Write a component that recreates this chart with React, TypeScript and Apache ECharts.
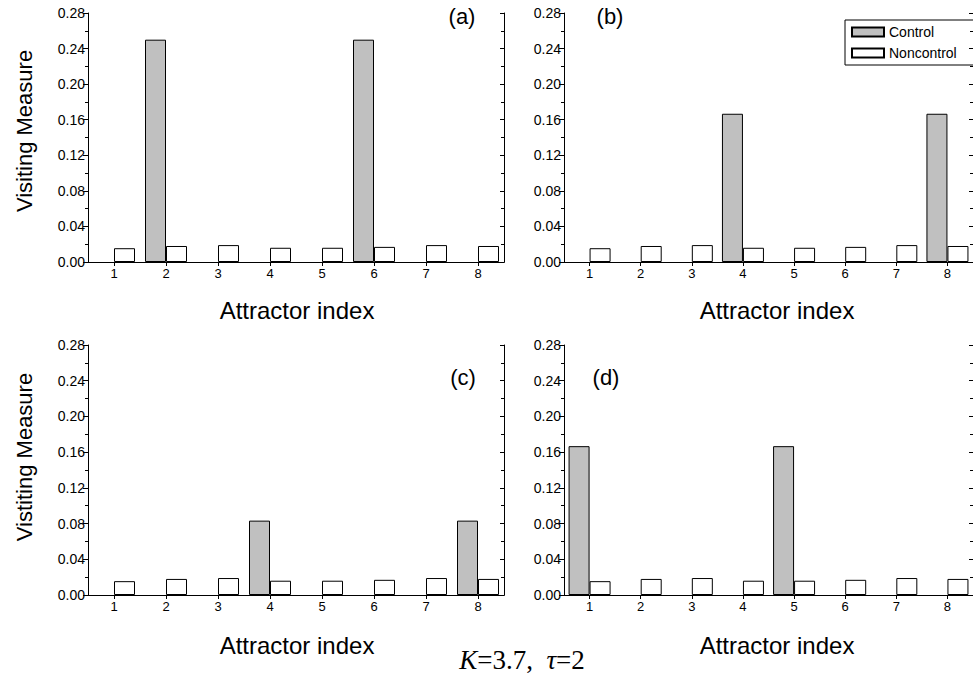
import React, { useEffect, useRef } from 'react';
import * as echarts from 'echarts';

const categories = ['1', '2', '3', '4', '5', '6', '7', '8'];
const controlA = [null, 0.25, null, null, null, 0.25, null, null];
const controlB = [null, null, null, 0.1667, null, null, null, 0.1667];
const controlC = [null, null, null, 0.0833, null, null, null, 0.0833];
const controlD = [0.1667, null, null, null, 0.1667, null, null, null];
const noncontrolA = [0.0155, 0.018, 0.019, 0.016, 0.016, 0.017, 0.019, 0.018];
const noncontrolB = [0.0155, 0.018, 0.019, 0.016, 0.016, 0.017, 0.019, 0.018];
const noncontrolC = [0.0155, 0.018, 0.019, 0.016, 0.016, 0.017, 0.019, 0.018];
const noncontrolD = [0.0155, 0.018, 0.019, 0.016, 0.016, 0.017, 0.019, 0.018];
const panelLabels = ['(a)', '(b)', '(c)', '(d)'];
const yTitles = ['Visiting Measure', 'Vistiting Measure'];
const xTitle = 'Attractor index';

const FONT = 'Liberation Sans, Arial, sans-serif';
const SERIF = 'Liberation Serif, Times New Roman, serif';

export default function App() {
  const ref = useRef<HTMLDivElement>(null);
  useEffect(() => {
    if (!ref.current) return;
    const chart = echarts.init(ref.current, undefined, { renderer: 'svg' });
    const grids = [
      { left: 88, top: 13, width: 416, height: 249 },
      { left: 564, top: 13, width: 416, height: 249 },
      { left: 88, top: 345, width: 416, height: 250 },
      { left: 564, top: 345, width: 416, height: 250 },
    ];
    const controls = [controlA, controlB, controlC, controlD];
    const noncontrols = [noncontrolA, noncontrolB, noncontrolC, noncontrolD];
    const black = { color: '#000', width: 1 };
    const xAxis: any[] = [];
    const yAxis: any[] = [];
    const series: any[] = [];
    grids.forEach((_, i) => {
      xAxis.push({
        gridIndex: i, type: 'category', data: categories, position: 'bottom',
        axisLine: { show: true, lineStyle: black },
        axisTick: { show: true, alignWithLabel: true, length: 4, lineStyle: black },
        axisLabel: { color: '#000', fontSize: 13, fontFamily: FONT, margin: 5 },
        splitLine: { show: false },
      });
      xAxis.push({
        gridIndex: i, type: 'category', data: categories, position: 'top',
        axisLine: { show: true, lineStyle: black },
        axisTick: { show: true, alignWithLabel: true, inside: true, length: 3, lineStyle: black },
        axisLabel: { show: false },
        splitLine: { show: false },
      });
      yAxis.push({
        gridIndex: i, type: 'value', min: 0, max: 0.28, interval: 0.04, position: 'left',
        axisLine: { show: true, lineStyle: black },
        axisTick: { show: true, length: 5, lineStyle: black },
        minorTick: { show: true, splitNumber: 2, length: 3, lineStyle: black },
        axisLabel: { color: '#000', fontSize: 14, fontFamily: FONT, margin: 3, formatter: (v: number) => v.toFixed(2) },
        splitLine: { show: false },
      });
      yAxis.push({
        gridIndex: i, type: 'value', min: 0, max: 0.28, interval: 0.04, position: 'right',
        axisLine: { show: true, lineStyle: black },
        axisTick: { show: true, inside: true, length: 4, lineStyle: black },
        minorTick: { show: true, splitNumber: 2, length: 3, lineStyle: black },
        axisLabel: { show: false },
        splitLine: { show: false },
      });
      series.push({
        name: 'Control', type: 'bar', xAxisIndex: 2 * i, yAxisIndex: 2 * i,
        data: controls[i], barWidth: 21, barGap: '0%',
        itemStyle: { color: '#c0c0c0', borderColor: '#000', borderWidth: 1 },
      });
      series.push({
        name: 'Noncontrol', type: 'bar', xAxisIndex: 2 * i, yAxisIndex: 2 * i,
        data: noncontrols[i], barWidth: 21, barGap: '0%',
        itemStyle: { color: '#ffffff', borderColor: '#000', borderWidth: 1 },
      });
    });
    const labelPos = [[462, 16], [610, 16], [463, 377], [606, 377]];
    const graphic: any[] = [];
    labelPos.forEach((p, i) => {
      graphic.push({
        type: 'text', x: p[0], y: p[1],
        style: { text: panelLabels[i], fontSize: 22, fontFamily: FONT, fill: '#000', textAlign: 'center', textVerticalAlign: 'middle', align: 'center', verticalAlign: 'middle' },
      });
    });
    [[24, 131], [24, 457]].forEach((p, i) => {
      graphic.push({
        type: 'text', x: p[0], y: p[1], rotation: Math.PI / 2,
        style: { text: yTitles[i], fontSize: 22, fontFamily: FONT, fill: '#000', textAlign: 'center', textVerticalAlign: 'middle', align: 'center', verticalAlign: 'middle' },
      });
    });
    [[297, 310], [777, 310], [297, 645], [777, 645]].forEach((p) => {
      graphic.push({
        type: 'text', x: p[0], y: p[1],
        style: { text: xTitle, fontSize: 24, fontFamily: FONT, fill: '#000', textAlign: 'center', textVerticalAlign: 'middle', align: 'center', verticalAlign: 'middle' },
      });
    });
    graphic.push({
      type: 'text', x: 522, y: 660,
      style: {
        text: '{i|K}=3.7,  {i|τ}=2',
        fontSize: 27, fontFamily: SERIF, fill: '#000',
        textAlign: 'center', textVerticalAlign: 'middle', align: 'center', verticalAlign: 'middle',
        rich: { i: { fontStyle: 'italic', fontSize: 27, fontFamily: SERIF } },
      },
    });
    chart.setOption({
      animation: false,
      backgroundColor: '#fff',
      grid: grids,
      xAxis, yAxis, series,
      legend: {
        data: ['Control', 'Noncontrol'], orient: 'vertical', left: 845, top: 20,
        itemWidth: 32, itemHeight: 9, itemGap: 7, icon: 'rect', selectedMode: false,
        borderColor: '#000', borderWidth: 1, borderRadius: 0, padding: [5, 40, 5, 6],
        textStyle: { color: '#000', fontSize: 14, fontFamily: FONT },
      },
      graphic,
    });
    return () => chart.dispose();
  }, []);
  return <div ref={ref} style={{ position: 'absolute', left: 0, top: 0, width: 973, height: 678 }} />;
}
